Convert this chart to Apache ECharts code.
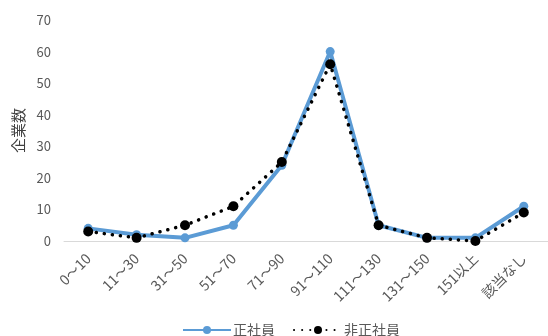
<!DOCTYPE html>
<html>
<head>
<meta charset="utf-8">
<script src="https://cdn.jsdelivr.net/npm/echarts@6/dist/echarts.min.js"></script>
<style>
  html, body { margin: 0; padding: 0; background: #fff; }
  #chart { width: 548px; height: 336px; }
</style>
</head>
<body>
<div id="chart"></div>
<script>
// Employee-count bands on the category axis
const categories = ['0～10', '11～30', '31～50', '51～70', '71～90', '91～110', '111～130', '131～150', '151以上', '該当なし'];
// Number of companies per band
const regularStaff = [4, 2, 1, 5, 24, 60, 5, 1, 1, 11];
const nonRegularStaff = [3, 1, 5, 11, 25, 56, 5, 1, 0, 9];
const yTicks = { min: 0, max: 70, interval: 10 };

const FONT = '"Noto Sans CJK JP", "Noto Sans", sans-serif';
const chart = echarts.init(document.getElementById('chart'));

chart.setOption({
  animation: false,
  textStyle: { fontFamily: FONT },
  grid: { left: 64, right: -9, top: 20, bottom: 95, containLabel: false },
  legend: {
    bottom: -6,
    left: 177,
    itemWidth: 48,
    itemHeight: 10,
    itemGap: 18,
    textStyle: { fontFamily: FONT, fontSize: 14, color: '#595959', padding: [0, 0, 0, -3] },
    data: ['正社員', '非正社員']
  },
  xAxis: {
    type: 'category',
    data: categories,
    boundaryGap: true,
    axisLine: { lineStyle: { color: '#d9d9d9', width: 1 } },
    axisTick: { show: false },
    axisLabel: {
      rotate: 45,
      interval: 0,
      margin: 15,
      fontSize: 14,
      color: '#595959',
      fontFamily: FONT
    }
  },
  yAxis: {
    type: 'value',
    min: yTicks.min,
    max: yTicks.max,
    interval: yTicks.interval,
    name: '企業数',
    nameLocation: 'middle',
    nameGap: 38,
    nameTextStyle: { fontSize: 15, color: '#404040', fontFamily: FONT },
    axisLine: { show: false },
    axisTick: { show: false },
    splitLine: { show: false },
    axisLabel: { fontSize: 13, color: '#595959', margin: 13, fontFamily: FONT }
  },
  series: [
    {
      name: '正社員',
      type: 'line',
      data: regularStaff,
      symbol: 'circle',
      symbolSize: 9,
      itemStyle: { color: '#5B9BD5' },
      lineStyle: { color: '#5B9BD5', width: 4 },
      z: 2
    },
    {
      name: '非正社員',
      type: 'line',
      data: nonRegularStaff,
      symbol: 'circle',
      symbolSize: 10,
      itemStyle: { color: '#000000' },
      lineStyle: { color: '#000000', width: 3.5, type: [0.1, 8], cap: 'round' },
      z: 3
    }
  ]
});
</script>
</body>
</html>
